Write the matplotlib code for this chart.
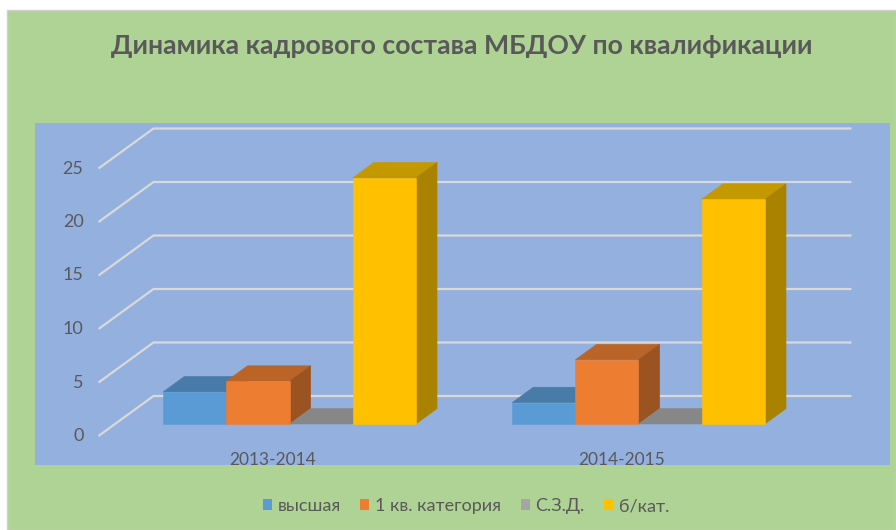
import matplotlib
matplotlib.use("Agg")
import matplotlib.pyplot as plt
from matplotlib.patches import Polygon, Rectangle, Patch

# data
categories = ["2013-2014", "2014-2015"]
series = ["высшая", "1 кв. категория", "С.З.Д.", "б/кат."]
vysshaya = [3, 2]
pervaya = [4, 6]
szd = [0, 0]
bez_kat = [23, 21]
yticks = [0, 5, 10, 15, 20, 25]

values = [vysshaya, pervaya, szd, bez_kat]
front = ["#5b9bd5", "#ed7d31", "#a5a5a5", "#ffc000"]
top = ["#487ba7", "#bb6428", "#878787", "#c49800"]
side = ["#3f6c94", "#9c5322", "#777777", "#a98200"]
TXT = "#595959"
GRID = "#d9d9d9"

plt.rcParams["font.family"] = ["Lato", "DejaVu Sans"]

W, H = 896, 530
fig = plt.figure(figsize=(W / 100, H / 100), dpi=100)
fig.patch.set_facecolor("white")
fig.add_artist(Rectangle((7 / W, 0), 1 - 7 / W, 1 - 10 / H, transform=fig.transFigure,
                         facecolor="#aed394", edgecolor="#d0d0d0", lw=1, zorder=-10))

# plot area in pixel box 35..890 x, 123..465 y (from top)
ax = fig.add_axes([35 / W, (H - 465) / H, 855 / W, 342 / H])
ax.set_facecolor("#94b0de")
for s in ax.spines.values():
    s.set_visible(False)
ax.set_xticks([]); ax.set_yticks([])

px_c = 349.0      # px per category unit
px_v = 10.7       # px per value unit
ax.set_xlim((35 - 273) / px_c, (890 - 273) / px_c)
ax.set_ylim((436 - 465) / px_v, (436 - 123) / px_v)

dX, dY = 55 / px_c, 40 / px_v        # full depth offset
x_lo, x_hi = -0.5, len(categories) - 0.5

# gridlines (side wall diagonal + back wall)
for v in yticks:
    ax.plot([x_lo, x_lo + dX, x_hi + dX], [v, v + dY, v + dY], color=GRID, lw=1.6,
            solid_capstyle="butt", zorder=1)
    ax.text(x_lo - 15 / px_c, v, str(v), ha="right", va="center", fontsize=13, color=TXT)

# bars
w = 0.181
t = 0.30          # depth of the front face
dd = 0.385        # bar depth
ox, oy = dd * dX, dd * dY
z = 2
for j, cat in enumerate(categories):
    for i in range(len(series)):
        v = values[i][j]
        x0 = j + t * dX - 2 * w + i * w
        x1 = x0 + w
        yb = t * dY
        yt = v + t * dY
        ax.add_patch(Polygon([(x0, yt), (x1, yt), (x1 + ox, yt + oy), (x0 + ox, yt + oy)],
                             closed=True, facecolor=top[i], edgecolor=top[i], lw=0.4, zorder=z))
        if v > 0:
            ax.add_patch(Polygon([(x1, yb), (x1, yt), (x1 + ox, yt + oy), (x1 + ox, yb + oy)],
                                 closed=True, facecolor=side[i], edgecolor=side[i], lw=0.4, zorder=z))
            ax.add_patch(Rectangle((x0, yb), w, v, facecolor=front[i], edgecolor=front[i],
                                   lw=0.4, zorder=z + 0.5))
        z += 1
    ax.text(j, (436 - 460) / px_v, cat, ha="center", va="center", fontsize=12.5, color=TXT)

fig.text(462 / W, 1 - 46 / H, "Динамика кадрового состава МБДОУ по квалификации",
         ha="center", va="center", fontsize=19.2, fontweight="bold", color=TXT)

handles = [Patch(facecolor=c, edgecolor="none") for c in front]
fig.legend(handles, series, loc="center", bbox_to_anchor=(466 / W, 1 - 506 / H), ncol=4,
           frameon=False, fontsize=13, handlelength=0.5, handleheight=0.5,
           handletextpad=0.3, columnspacing=1.1, labelcolor=TXT)

fig.savefig("out.png", dpi=100)
